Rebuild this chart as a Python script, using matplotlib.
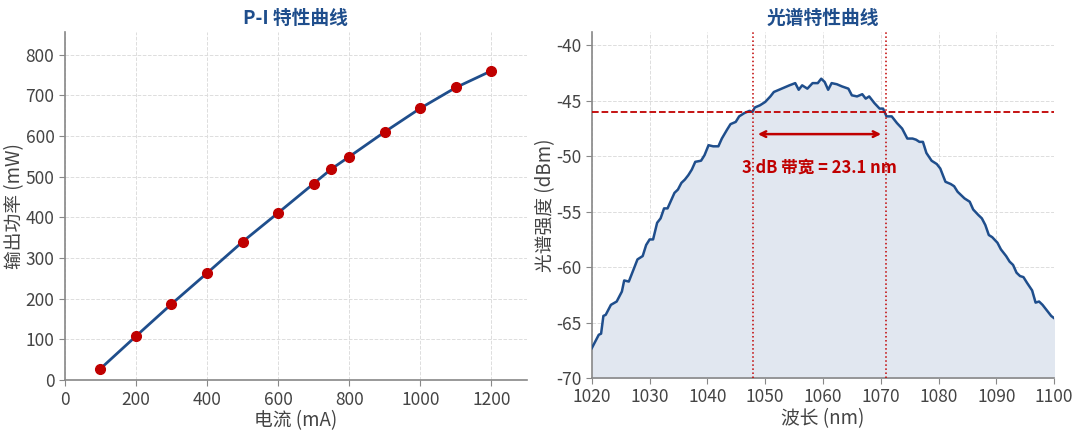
import matplotlib
matplotlib.use('agg')
import matplotlib.pyplot as plt

plt.rcParams['font.family'] = ['Noto Sans CJK SC', 'DejaVu Sans']
plt.rcParams['axes.unicode_minus'] = False

# P-I data
current_ma = [100, 200, 300, 400, 500, 600, 700, 750, 800, 900, 1000, 1100, 1200]
power_mw = [28, 108, 187, 263, 340, 411, 483, 519, 549, 610, 668, 719, 760]

# spectrum data
wavelength_nm = [1020.0, 1020.6, 1021.2, 1021.6, 1022.0, 1022.4, 1023.3, 1024.3, 1025.2, 1025.6,
                 1026.4, 1027.3, 1027.9, 1028.8, 1029.4, 1030.0, 1030.6, 1031.3, 1031.9, 1032.5,
                 1033.1, 1033.7, 1034.3, 1034.9, 1035.5, 1036.1, 1036.7, 1037.3, 1037.9, 1038.9,
                 1039.5, 1040.2, 1041.0, 1041.9, 1042.5, 1043.4, 1044.0, 1044.9, 1045.5, 1046.4,
                 1047.3, 1047.8, 1048.2, 1049.1, 1050.0, 1050.9, 1051.5, 1052.4, 1053.3, 1054.2,
                 1055.2, 1055.8, 1056.4, 1057.3, 1058.2, 1059.1, 1059.7, 1060.3, 1060.9, 1061.5,
                 1062.4, 1063.3, 1064.4, 1065.0, 1065.9, 1066.8, 1067.4, 1068.0, 1068.9, 1069.8,
                 1070.4, 1071.0, 1071.9, 1072.8, 1073.7, 1074.6, 1075.5, 1076.1, 1076.7, 1077.3,
                 1077.9, 1078.8, 1079.7, 1080.3, 1081.2, 1082.1, 1082.7, 1083.3, 1083.9, 1084.5,
                 1085.4, 1086.0, 1086.9, 1087.5, 1088.1, 1088.7, 1089.3, 1090.2, 1090.8, 1091.7,
                 1092.3, 1092.9, 1093.5, 1094.1, 1094.7, 1095.3, 1096.2, 1096.8, 1097.4, 1098.0,
                 1098.6, 1099.5, 1100.0]
intensity_dbm = [-67.3, -66.7, -66.1, -66.0, -64.4, -64.3, -63.4, -63.1, -62.2, -61.2,
                 -61.3, -60.1, -59.3, -59.0, -58.0, -57.5, -57.5, -56.0, -55.6, -54.7,
                 -54.7, -54.0, -53.3, -53.0, -52.4, -52.1, -51.7, -51.2, -50.5, -50.4,
                 -49.9, -49.0, -49.1, -49.1, -48.4, -47.6, -47.1, -46.9, -46.4, -46.1,
                 -45.9, -46.0, -45.6, -45.4, -45.1, -44.6, -44.2, -44.0, -43.8, -43.6,
                 -43.4, -44.0, -43.6, -43.9, -43.4, -43.4, -43.0, -43.3, -44.0, -43.4,
                 -43.5, -43.7, -43.9, -44.5, -44.6, -44.4, -44.8, -44.6, -45.2, -45.7,
                 -45.7, -46.4, -46.4, -47.0, -47.5, -48.4, -48.4, -48.5, -48.7, -48.7,
                 -49.7, -50.4, -50.7, -51.1, -52.3, -52.5, -52.7, -53.2, -53.5, -53.8,
                 -54.1, -54.8, -55.3, -55.6, -56.2, -57.1, -57.3, -57.8, -58.4, -59.0,
                 -59.5, -59.8, -60.5, -60.8, -60.9, -61.4, -62.1, -63.2, -63.1, -63.4,
                 -63.8, -64.4, -64.6]

level_3db = -46.0
edge_left = 1047.85
edge_right = 1070.95
bw_label = '3 dB 带宽 = 23.1 nm'

blue = '#1f4e8c'
red = '#c00000'
tick_color = '#444444'

fig = plt.figure(figsize=(10.8, 4.34), dpi=100)
ax1 = fig.add_axes([0.060, 0.124, 0.428, 0.802])
ax2 = fig.add_axes([0.548, 0.129, 0.428, 0.797])


def style_axes(ax):
    for side in ['top', 'right']:
        ax.spines[side].set_visible(False)
    for side in ['left', 'bottom']:
        ax.spines[side].set_color('#888888')
        ax.spines[side].set_linewidth(1.2)
    ax.grid(True, linestyle='--', color='#dddddd', linewidth=0.7)
    ax.set_axisbelow(True)
    ax.tick_params(labelsize=12.5, colors=tick_color, length=4, color='#888888')


# ---- P-I curve ----
ax1.plot(current_ma, power_mw, color=blue, linewidth=2, marker='o', markersize=7,
         markerfacecolor=red, markeredgecolor=red, zorder=3)
ax1.set_xlim(0, 1300)
ax1.set_ylim(0, 855)
ax1.set_xticks([0, 200, 400, 600, 800, 1000, 1200])
ax1.set_yticks(range(0, 900, 100))
ax1.set_xlabel('电流 (mA)', fontsize=13.5, color=tick_color, labelpad=1)
ax1.set_ylabel('输出功率 (mW)', fontsize=13.5, color=tick_color, labelpad=0)
ax1.set_title('P-I 特性曲线', fontsize=13.5, fontweight='bold', color=blue, pad=6)
style_axes(ax1)

# ---- spectrum ----
ax2.fill_between(wavelength_nm, intensity_dbm, -70, color='#e1e7f0', zorder=1)
ax2.plot(wavelength_nm, intensity_dbm, color=blue, linewidth=1.8, zorder=3)
ax2.axhline(level_3db, color=red, linestyle='--', linewidth=1.3, zorder=4)
ax2.axvline(edge_left, color=red, linestyle=':', linewidth=1.1, zorder=4)
ax2.axvline(edge_right, color=red, linestyle=':', linewidth=1.1, zorder=4)
ax2.annotate('', xy=(edge_left + 0.4, -48.0), xytext=(edge_right - 0.4, -48.0),
             arrowprops=dict(arrowstyle='<->', color=red, lw=1.8), zorder=5)
ax2.text((edge_left + edge_right) / 2, -51.0, bw_label, color=red, fontsize=12,
         fontweight='bold', ha='center', va='center', zorder=5)
ax2.set_xlim(1020, 1100)
ax2.set_ylim(-70, -38.8)
ax2.set_xticks(range(1020, 1101, 10))
ax2.set_yticks([-70, -65, -60, -55, -50, -45, -40])
ax2.set_xlabel('波长 (nm)', fontsize=13.5, color=tick_color, labelpad=1)
ax2.set_ylabel('光谱强度 (dBm)', fontsize=13.5, color=tick_color, labelpad=0)
ax2.set_title('光谱特性曲线', fontsize=13.5, fontweight='bold', color=blue, pad=6)
style_axes(ax2)

fig.savefig('out.png', dpi=100)
